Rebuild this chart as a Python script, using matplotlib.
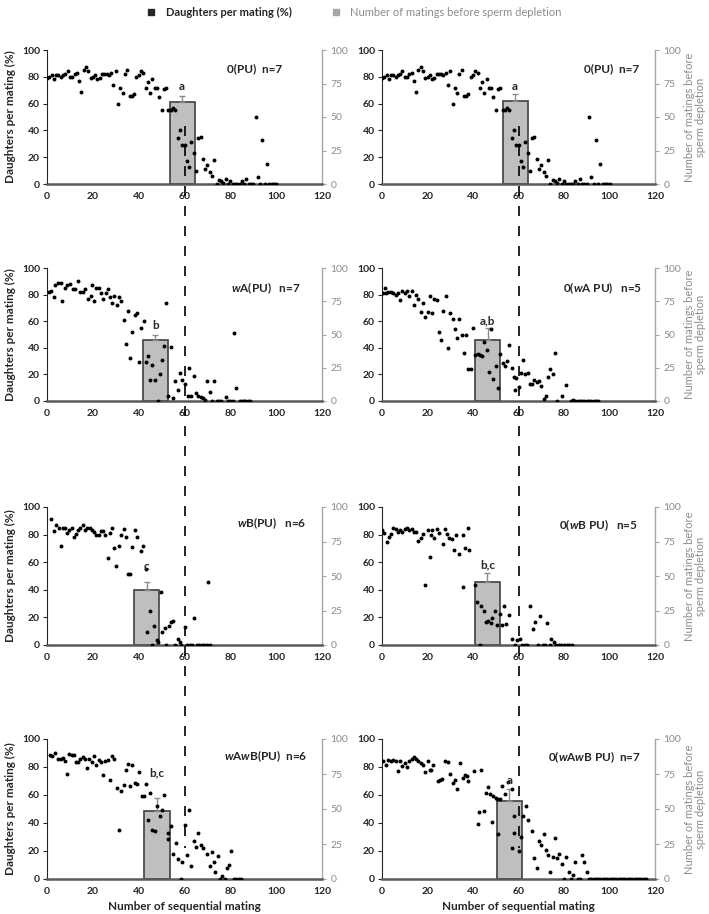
import matplotlib
matplotlib.use('Agg')
import matplotlib.pyplot as plt
from matplotlib.lines import Line2D

plt.rcParams['font.family'] = ['Lato', 'DejaVu Sans']
plt.rcParams['mathtext.fontset'] = 'custom'
plt.rcParams['mathtext.bf'] = 'Lato:bold'
plt.rcParams['mathtext.bfit'] = 'Lato:bold:italic'
plt.rcParams['mathtext.it'] = 'Lato:italic'
plt.rcParams['mathtext.rm'] = 'Lato'

# ---- data ----
# 0(PU), shown twice (top row)
pu_x = [0, 1, 2, 3, 4, 5, 6, 7, 8, 9, 10, 11, 12, 13, 14, 15, 16, 17, 18, 19, 20,
        21, 22, 23, 24, 25, 26, 27, 28, 29, 30, 31, 32, 33, 34, 35, 36, 37, 38, 39, 40,
        41, 42, 43, 44, 45, 46, 47, 48, 49, 50, 51, 52, 53, 54, 55, 56, 57, 58, 59, 60,
        61, 62, 63, 64, 65, 66, 67, 68, 69, 70, 71, 72, 73, 74, 75, 76, 77, 78, 79, 80,
        81, 82, 83, 84, 85, 86, 87, 88, 89, 90, 91, 92, 93, 94, 95, 96, 97, 98, 99, 100]
pu_y = [79, 80, 81, 78, 81, 81, 80, 81, 82, 84, 80, 80, 82, 83, 77, 69, 85, 87, 84, 79, 80,
        81, 78, 79, 82, 82, 82, 81, 83, 74, 84, 60, 72, 68, 82, 85, 66, 66, 67, 80, 81,
        84, 83, 72, 76, 68, 78, 72, 72, 65, 55, 71, 72, 55, 55, 57, 55, 34, 40, 29, 29,
        17, 13, 31, 23, 10, 34, 35, 19, 11, 14, 9, 6, 18, 0, 3, 2, 1, 4, 0, 2,
        0, 0, 0, 0, 2, 0, 4, 0, 0, 0, 50, 5, 0, 33, 0, 15, 0, 0, 0, 0]

wa_x = [0.7, 1.9, 2.9, 3.7, 4.7, 5.9, 6.7, 7.8, 8.8, 10, 11.3, 12.4, 13.6, 14.6, 15.7, 16.5,
        18, 19, 19.5, 20.5, 21.5, 22.7, 23.4, 24.5, 25.6, 26.5, 27.4, 28.4, 29.4, 30.5, 31.5,
        32.4, 33.4, 34.4, 35.4, 36.3, 37.3, 38.2, 39.2, 40.3, 41.1, 42.2, 43.2, 44, 45, 46,
        47, 48.3, 49.2, 50.2, 51.2, 52, 53, 54, 55, 56, 57, 58, 59, 60, 61.4, 62, 63, 64, 65,
        66, 67, 68, 69, 70, 71, 72, 73, 74, 75, 76, 78, 79, 80, 81, 81.5, 82.6, 84, 85, 86,
        86.5, 87.5, 88.5]
wa_y = [82, 83, 78, 87.5, 88.6, 89, 75, 85, 87, 88, 84, 84, 90, 82, 82, 84,
        77, 79, 87, 75.5, 85, 85, 81, 77, 81, 84, 78, 74, 79, 72, 78,
        75, 61, 43, 68, 32, 52, 65, 66, 29, 55, 60, 29, 34, 16, 27,
        15.5, 0, 20, 31, 41, 74, 4, 40.5, 2, 15, 8, 21, 16, 13, 4, 25, 4, 19, 6,
        4, 3, 2, 1, 15, 7, 0, 15, 0, 0, 0, 3, 0, 0, 0, 51, 10, 0, 0, 0,
        0, 0, 0]

wa0_x = [0.4, 1.3, 1.9, 2.8, 3.8, 4.9, 6, 7, 8, 9, 10, 10.9, 12, 13, 14, 15, 16, 17, 18, 19,
         20, 21, 22, 23, 24, 25, 26, 27, 28, 29, 30, 31, 32, 33, 34, 35, 36, 37, 38, 39,
         40, 41, 42, 43, 44, 45, 46, 47, 48, 49, 50, 51, 52, 53, 54, 55, 56, 57, 58, 58.5,
         59, 60, 61, 62, 63, 64, 65, 66, 67, 68, 69, 70, 71, 72, 73, 74, 75, 76, 77, 79,
         81, 83, 84, 85, 86, 87, 88, 89, 90, 91, 92, 93, 94, 95]
wa0_y = [81.4, 85, 81, 82, 82, 81, 80, 81, 76, 82.5, 81, 83, 79, 83, 72.5, 80, 77, 67, 73.5, 63.5,
         67, 79, 66, 76.5, 76, 52, 46, 68, 79, 40, 66, 62, 54.5, 47, 62, 49.5, 36, 50, 24, 24,
         55, 34.5, 35, 34.5, 34, 44, 38.5, 21.5, 54.5, 16.5, 26, 10, 35, 28.6, 26, 30, 42, 25, 17.7, 8,
         17, 10.5, 21, 31, 20, 21, 12.7, 12.7, 16, 14, 14.7, 11.6, 1.3, 4, 18, 24, 20, 36, 0, 4,
         12, 0, 1, 0, 0, 0, 0, 0, 0, 0, 0, 0, 0, 0]

wb_x = [1.8, 2.9, 4, 5.1, 5.9, 6.9, 7.9, 8.8, 9.8, 10.8, 11.7, 12.7, 13.6, 14.6, 15.5, 16.5,
        17.6, 18.6, 19.6, 20.6, 21.5, 22.5, 23.4, 24.5, 25.5, 26.5, 27.4, 28.2, 29.3, 30.3,
        31.3, 32.4, 33.4, 34.4, 35.3, 36.3, 37.3, 38.4, 39.2, 41, 42, 43, 43.6, 44.9, 46,
        46.7, 48, 48.5, 49.6, 50.3, 51.4, 52, 53.2, 54, 55, 56, 57.2, 58, 58.6, 60, 61,
        62.3, 63.3, 64, 65.3, 66.4, 67.5, 68.6, 70, 70.2, 71.3]
wb_y = [91, 82.6, 86.6, 84.7, 71.8, 84.7, 84.7, 81, 83, 84.7, 78, 80.7, 83, 85, 87, 83.5,
        85, 84.7, 83, 82, 79.5, 79.5, 82.8, 82.3, 80, 63, 81, 84.5, 70, 57.5,
        72, 80, 84, 78.5, 51.5, 51.5, 71, 83.5, 78.5, 68, 72, 55, 9.5, 24.5, 0,
        13.8, 3.3, 2.4, 38.6, 9.3, 12.4, 0, 14, 16.4, 17.6, 0, 4.3, 2, 0, 13.3, 0,
        0, 0, 19.3, 0, 0, 0, 0, 0, 45.7, 0]

wb0_x = [0, 1, 2, 3, 4, 5, 6, 7, 8, 9, 10, 11, 12, 13, 14, 15, 16, 17, 18, 19, 20, 21, 21.5,
         22, 23, 24, 25, 26.6, 27.6, 28.7, 29.6, 30.7, 31.6, 32.5, 33.7, 35.7, 35.7, 36.6,
         37.6, 38.4, 40.7, 41.8, 43, 43.6, 44.9, 45.8, 46.7, 47.8, 48.5, 49.8, 50.7, 51.8,
         52.7, 53.7, 54.6, 55.7, 57.3, 58.4, 59.5, 60.6, 61.7, 62.8, 63.9, 65, 66.3, 67.4,
         68.5, 69.6, 70.7, 71.8, 72.7, 73.8, 74.5, 75.6, 76.7, 77.8, 78.9, 80, 81.1, 82.2, 83.3]
wb0_y = [83.5, 81, 75, 78, 80.7, 85, 84, 81.6, 83.5, 82, 84, 84.5, 83.5, 84, 82, 81.6, 75.5,
         77.4, 80.7, 43.4, 83.5, 64, 80, 83.5, 77.6, 83.7, 81, 73, 83.7, 80.7, 77.4, 77, 68.6,
         80, 66, 42, 80, 70.5, 84.7, 69, 43.6, 31, 0, 28, 25, 17, 17.6, 16.2, 19.5, 25, 14.8,
         22.4, 14.3, 28, 15, 22, 4.3, 0, 3.3, 4.3, 0, 0, 0, 28.6, 11.9, 17, 0, 20.7, 0, 0, 16,
         0, 4.3, 2.4, 0, 0, 0, 0, 0, 0, 0]

wab_x = [1.2, 2.2, 3.7, 4.8, 5.9, 6.9, 7.8, 8.8, 9.8, 10.8, 11.7, 12.6, 13.6, 14.6, 15.7,
         16.5, 17.6, 18.4, 19.5, 20.5, 21.5, 22.5, 23.4, 24.5, 25.5, 26.5, 27.4, 28.3, 29.4,
         30.5, 31.2, 32.4, 33.4, 34.4, 35.3, 36.3, 37.3, 38.2, 39.2, 40.3, 41.3, 42.2, 43.2,
         44, 45, 46, 47, 48, 49.2, 50, 51.2, 52.7, 53, 54, 55, 56.4, 57, 58.4, 59, 60, 61,
         61.8, 63, 64, 65, 66, 67, 68, 70, 71, 72, 73, 73.4, 74.4, 75.5, 76.5, 77.5, 78.5,
         79.3, 80.3, 81.5, 82.5, 83.6, 84.6]
wab_y = [88.6, 87.9, 89.8, 86, 85.7, 86.7, 84.5, 75, 89, 88.8, 88.6, 83.3, 83.8, 85.5, 87.4,
         85.5, 79, 85.5, 83.8, 88, 81.4, 85.2, 83.6, 74, 84, 85, 70.7, 87.6, 85.5,
         64.8, 35.2, 62.9, 67, 77.6, 82, 66.4, 81.4, 68.6, 67.6, 76.7, 59.5, 59.5, 67.9,
         42.4, 61.7, 34.7, 34.5, 52.4, 45, 49, 60, 28.4, 33, 38, 17.8, 26, 14.5, 0, 12.5, 38.6, 16.9,
         49.5, 9.6, 27.5, 22.7, 32.8, 24.6, 22.2, 17.8, 9.2, 19.3, 12, 5.3, 16.4, 0, 2.4, 0, 8.2,
         10, 19.8, 0, 0, 0, 0]

wab0_x = [0.4, 1.6, 2.8, 4, 5, 6, 7, 8, 9, 10, 11, 12, 13, 14, 15, 16, 17, 18, 19, 20, 21,
          21.6, 22.6, 24.4, 25.4, 26.3, 27.8, 28.8, 29.9, 31, 32, 33, 34.4, 35.4, 36.5, 37.2,
          38, 40.3, 42.4, 42.8, 43.5, 44.7, 45.7, 46.8, 47.5, 48.4, 48.7, 49.9, 50.7, 51, 51.9,
          52.6, 54, 55.4, 57, 57.2, 58, 58.2, 60, 61, 62, 63.2, 64.1, 66, 67, 68, 69, 70, 71,
          72, 73, 74, 75, 76, 77, 78, 79, 80, 81, 82, 83, 84, 85, 86, 87, 88, 89, 90, 91,
          92, 93, 94, 95, 96, 97, 98, 99, 100, 101, 102, 103, 104, 105, 106, 107, 108, 109,
          110, 111, 112, 113, 114, 115, 116]
wab0_y = [84, 81.5, 85, 84.6, 85, 84.3, 77, 84, 81, 82.7, 80, 84.3, 86, 87.4, 86, 84.3, 82.7,
          81.3, 76.6, 84, 78, 78, 81.3, 70.3, 71, 71.5, 84, 83.6, 75.2, 68.7, 70.5, 64.5, 82.7,
          72.4, 74.3, 73.4, 69.8, 77, 39.5, 47.7, 78, 48.6, 61.7, 65.9, 60.5, 40.7, 59.3, 58.2,
          57, 32, 57.5, 66.4, 61, 69.2, 22, 64.5, 33, 44.9, 20, 30, 44.9, 52.3, 41.8, 34, 15, 8,
          27, 24, 32, 21, 17, 5, 16, 29, 15, 18, 11, 0, 16, 5, 0, 3, 12, 0, 0, 17, 12, 5, 0,
          0, 0, 0, 0, 0, 0, 0, 0, 0, 0, 0, 0, 0, 0, 0, 0, 0, 0, 0, 0, 0, 0, 0, 0, 0]

# number of matings before sperm depletion (bar centre = mean, height, +SE)
bar_x = [59, 58.5, 47.3, 46.5, 43.5, 46.3, 48, 56]
bar_h = [61, 62, 45.5, 46, 40, 46, 48.5, 56]
bar_err = [5, 5, 4.5, 9, 5.5, 6, 9.5, 8]
letters = ['a', 'a', 'b', 'a,b', 'c', 'b,c', 'b,c', 'a']

titles = ['0(PU)  n=7', '0(PU)  n=7',
          r'$\mathbfit{w}$A(PU)   n=7', r'0($\mathbfit{w}$A PU)   n=5',
          r'$\mathbfit{w}$B(PU)   n=6', r'0($\mathbfit{w}$B PU)   n=5',
          r'$\mathbfit{w}$A$\mathbfit{w}$B(PU)  n=6', r'0($\mathbfit{w}$A$\mathbfit{w}$B PU)  n=7']

series = [(pu_x, pu_y), (pu_x, pu_y), (wa_x, wa_y), (wa0_x, wa0_y),
          (wb_x, wb_y), (wb0_x, wb0_y), (wab_x, wab_y), (wab0_x, wab0_y)]

# ---- layout ----
W, H = 709, 914
col_left = [47, 382]
col_w = [275, 273]
row_top = [50, 268, 507, 739]
row_bot = [184, 401, 645, 879]
title_pos = [(78.6, 86), (88.7, 86), (80.5, 85), (79.6, 85),
             (83, 88.5), (77.8, 87), (77.3, 88), (73, 87)]
letter_y = [73, 73, 57, 60, 57, 58, 76, 70]

DARK = '#262626'
GREY_TXT = '#8c8c8c'
GREY_AX = '#a6a6a6'
BAR_W = 11

fig = plt.figure(figsize=(W / 100, H / 100), dpi=100)

for i in range(8):
    r, c = divmod(i, 2)
    rect = [col_left[c] / W, 1 - row_bot[r] / H, col_w[c] / W, (row_bot[r] - row_top[r]) / H]
    ax = fig.add_axes(rect)
    ax2 = ax.twinx()
    ax.set_zorder(ax2.get_zorder() + 1)
    ax.patch.set_visible(False)

    ax2.bar(bar_x[i], bar_h[i], width=BAR_W, color='#bfbfbf', edgecolor='#404040', lw=1.2, zorder=1)
    ax2.errorbar(bar_x[i], bar_h[i], yerr=[[0], [bar_err[i]]], fmt='none',
                 ecolor=GREY_TXT, elinewidth=1, capsize=2, capthick=1)
    ax2.set_ylim(0, 100)
    ax2.set_yticks([0, 25, 50, 75, 100])
    ax2.tick_params(axis='y', colors=GREY_AX, labelcolor=GREY_TXT, labelsize=7.5,
                    length=3, width=0.8, pad=3)
    for s in ['top', 'left', 'bottom']:
        ax2.spines[s].set_visible(False)
    ax2.spines['right'].set_color(GREY_AX)
    ax2.spines['right'].set_linewidth(1.0)

    x, y = series[i]
    ax.scatter(x, y, s=8, color='black', lw=0, zorder=3)
    ax.set_xlim(0, 120)
    ax.set_ylim(0, 100)
    ax.set_xticks([0, 20, 40, 60, 80, 100, 120])
    ax.set_yticks([0, 20, 40, 60, 80, 100])
    ax.tick_params(axis='y', length=3, width=0.8, labelsize=7.5, colors=DARK, pad=2)
    ax.tick_params(axis='x', length=0, labelsize=7.5, colors=DARK, pad=6)
    for lab in ax.get_xticklabels() + ax.get_yticklabels():
        lab.set_fontweight('bold')
    for s in ['top', 'right']:
        ax.spines[s].set_visible(False)
    ax.spines['left'].set_color(DARK)
    ax.spines['left'].set_linewidth(0.8)
    ax.spines['bottom'].set_color('#595959')
    ax.spines['bottom'].set_linewidth(1.8)

    tx, ty = title_pos[i]
    ax.text(tx, ty, titles[i], fontsize=8.5, fontweight='bold', color=DARK, va='center', ha='left')
    ax.text(bar_x[i], letter_y[i], letters[i], fontsize=8.5, fontweight='bold', color=DARK,
            ha='center', va='center')

    if c == 0:
        ax.set_ylabel('Daughters per mating (%)', fontsize=8.5, fontweight='bold', color=DARK, labelpad=4)
    else:
        ax2.set_ylabel('Number of matings before\nsperm depletion', fontsize=8, color=GREY_TXT,
                       labelpad=2, linespacing=1.05)
    if r == 3:
        ax.set_xlabel('Number of sequential mating', fontsize=8.5, fontweight='bold', color=DARK, labelpad=3)

# dashed reference line at mating 60 running down each column
for c in range(2):
    xf = (col_left[c] + col_w[c] * 60 / 120) / W
    y_start = 1 - (row_bot[0] - 0.43 * (row_bot[0] - row_top[0])) / H
    y_end = 1 - (row_bot[3] - 0.22 * (row_bot[3] - row_top[3])) / H
    fig.add_artist(Line2D([xf, xf], [y_start, y_end], transform=fig.transFigure,
                          color='black', lw=1.2, dashes=(6, 6), zorder=10))

# legend
handles = [Line2D([], [], marker='s', ls='none', color=DARK, ms=5),
           Line2D([], [], marker='s', ls='none', color=GREY_AX, ms=4)]
leg = fig.legend(handles, ['Daughters per mating (%)', 'Number of matings before sperm depletion'],
                 loc='upper center', bbox_to_anchor=(0.495, 1.003), ncol=2, frameon=False,
                 fontsize=8, handletextpad=0.3, columnspacing=3)
leg.get_texts()[0].set_fontweight('bold')
leg.get_texts()[0].set_color(DARK)
leg.get_texts()[1].set_color(GREY_TXT)

fig.savefig('out.png', dpi=100)
